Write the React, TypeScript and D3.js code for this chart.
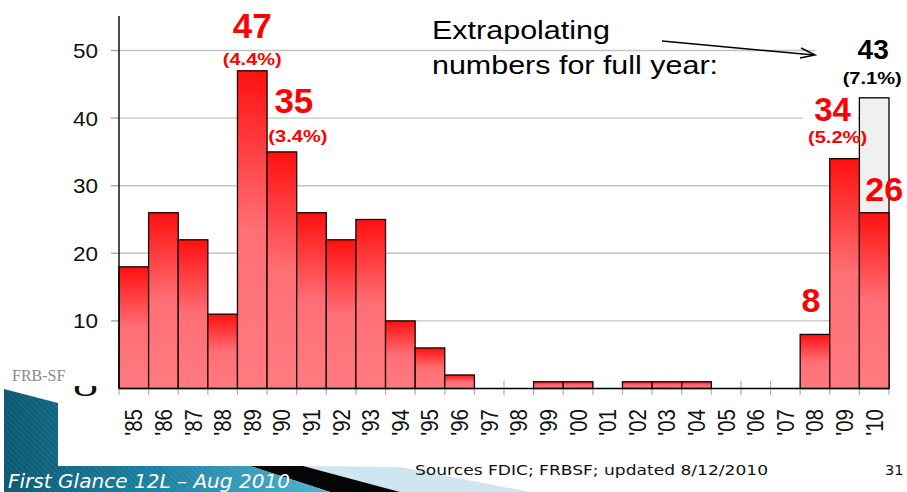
import React from "react";
import * as d3 from "d3";

// Bank failures per year, 1985–2010
const years = [
  "'85", "'86", "'87", "'88", "'89", "'90", "'91", "'92", "'93", "'94", "'95", "'96", "'97",
  "'98", "'99", "'00", "'01", "'02", "'03", "'04", "'05", "'06", "'07", "'08", "'09", "'10",
];
const failures = [18, 26, 22, 11, 47, 35, 26, 22, 25, 10, 6, 2, 0, 0, 1, 1, 0, 1, 1, 1, 0, 0, 0, 8, 34, 26];
// Full-year projection for the latest year
const projectedYear = "'10";
const projectedValue = 43;
const yTicks = [0, 10, 20, 30, 40, 50];

// Callouts: value, share of assets (optional), anchor, colour and optional backing box [left, right]
const callouts = [
  { year: "'89", value: "47", pct: "(4.4%)", dx: 0, pctDx: 0, vy: 38, py: 65, color: "#ff0000", big: 35, box: null },
  { year: "'90", value: "35", pct: "(3.4%)", dx: 12, pctDx: 4, vy: 113, py: 142, color: "#ff0000", big: 35, box: null },
  { year: "'09", value: "34", pct: "(5.2%)", dx: -12, pctDx: 5, vy: 121, py: 143, color: "#ff0000", big: 33, box: [-30, 25] },
  { year: "'10", value: "43", pct: "(7.1%)", dx: -1, pctDx: -1, vy: 59, py: 84, color: "#000000", big: 28, box: [-58, 32] },
  { year: "'10", value: "26", pct: "", dx: 10, pctDx: 0, vy: 201, py: 0, color: "#ff0000", big: 34, box: null },
  { year: "'08", value: "8", pct: "", dx: -4, pctDx: 0, vy: 312, py: 0, color: "#ff0000", big: 34, box: null },
];

const W = 907;
const H = 492;
const SANS = "'Liberation Sans', Arial, sans-serif";
const VERDANA = "'DejaVu Sans', Verdana, sans-serif";

export default function App() {
  const x = d3.scaleBand<string>().domain(years).range([119, 889]).padding(0);
  const y = d3.scaleLinear().domain([0, 50]).range([388.5, 50.5]);
  const bw = x.bandwidth();
  const base = y(0);

  return (
    <svg
      width={W}
      height={H}
      viewBox={`0 0 ${W} ${H}`}
      style={{ position: "absolute", left: 0, top: 0, background: "#fff" }}
    >
      <defs>
        <linearGradient id="barFill" x1="0" y1="0" x2="0" y2="1">
          <stop offset="0" stopColor="#ff1010" />
          <stop offset="0.5" stopColor="#ff6f75" />
          <stop offset="1" stopColor="#ff7a7f" />
        </linearGradient>
        <linearGradient id="teal" gradientUnits="userSpaceOnUse" x1="0" y1="0" x2="330" y2="0">
          <stop offset="0" stopColor="#0a5770" />
          <stop offset="0.45" stopColor="#1a7f9f" />
          <stop offset="1" stopColor="#4eb2d0" />
        </linearGradient>
        <pattern id="stripes" width="4" height="4" patternUnits="userSpaceOnUse" patternTransform="rotate(-45)">
          <line x1="0" y1="0" x2="0" y2="4" stroke="#ffffff" strokeOpacity="0.1" strokeWidth="1.5" />
        </pattern>
      </defs>

      {/* horizontal gridlines */}
      {yTicks.filter((t) => t > 0).map((t) => (
        <g key={`g${t}`}>
          <line x1={119} x2={889} y1={y(t)} y2={y(t)} stroke="#c4c4c4" strokeWidth={1.4} />
          <line x1={111} x2={119} y1={y(t)} y2={y(t)} stroke="#a8a8a8" strokeWidth={1.4} />
        </g>
      ))}

      {/* y tick labels */}
      {yTicks.map((t) => (
        <text key={`yl${t}`} x={98} y={y(t)} dy="0.36em" textAnchor="end" fontFamily={SANS} fontSize={21}
          fill="#111" textLength={25} lengthAdjust="spacingAndGlyphs">
          {t}
        </text>
      ))}

      {/* x tick marks at category boundaries */}
      {[...years.map((d) => x(d) as number), 889].map((px, i) => (
        <line key={`xt${i}`} x1={px} x2={px} y1={381} y2={395} stroke="#b0b0b0" strokeWidth={1.2} />
      ))}

      {/* white backing boxes behind the right-hand callouts */}
      {callouts.map((c, i) => {
        if (!c.box) return null;
        const cx = (x(c.year) as number) + bw / 2 + c.dx;
        return (
          <rect key={`bx${i}`} x={cx + c.box[0]} y={c.vy - c.big * 0.75}
            width={c.box[1] - c.box[0]} height={c.py - c.vy + c.big * 0.75 + 4} fill="#fff" />
        );
      })}

      {/* projected full-year bar */}
      <rect
        x={x(projectedYear)}
        y={y(projectedValue)}
        width={bw}
        height={base - y(projectedValue)}
        fill="#f0f0f0"
        stroke="#000"
        strokeWidth={1.3}
      />

      {/* yearly bars */}
      {years.map((d, i) =>
        failures[i] > 0 ? (
          <rect
            key={`b${d}`}
            x={x(d)}
            y={y(failures[i])}
            width={bw}
            height={base - y(failures[i])}
            fill="url(#barFill)"
            stroke="#1a0000"
            strokeWidth={1.3}
          />
        ) : null
      )}

      {/* axes */}
      <line x1={119} x2={119} y1={16} y2={base} stroke="#000" strokeWidth={1.4} />
      <line x1={119} x2={889} y1={base} y2={base} stroke="#000" strokeWidth={1.6} />

      {/* x labels */}
      {years.map((d) => (
        <text
          key={`xl${d}`}
          transform={`translate(${(x(d) as number) + bw / 2},409) scale(1.15,1) rotate(-90)`}
          textAnchor="end"
          dy="0.36em"
          fontFamily={SANS}
          fontSize={20.5}
          fill="#111"
        >
          {d}
        </text>
      ))}

      {/* annotation */}
      <text x={432} y={39} fontFamily={SANS} fontSize={25} fill="#000" textLength={178} lengthAdjust="spacingAndGlyphs">Extrapolating</text>
      <text x={432} y={74} fontFamily={SANS} fontSize={25} fill="#000" textLength={286} lengthAdjust="spacingAndGlyphs">numbers for full year:</text>
      <line x1={662} y1={41} x2={814} y2={55} stroke="#000" strokeWidth={1.5} />
      <polyline points="801,48 815,55 800,58" fill="none" stroke="#000" strokeWidth={1.5} />

      {/* value callouts */}
      {callouts.map((c, i) => {
        const cx = (x(c.year) as number) + bw / 2 + c.dx;
        return (
          <g key={`c${i}`} fontFamily={SANS} fontWeight="bold" fill={c.color} textAnchor="middle">
            <text x={cx} y={c.vy} fontSize={c.big}>{c.value}</text>
            {c.pct ? (
              <text x={cx + c.pctDx} y={c.py} fontSize={17} textLength={59} lengthAdjust="spacingAndGlyphs">{c.pct}</text>
            ) : null}
          </g>
        );
      })}

      {/* footer branding */}
      <rect x={0} y={364} width={108} height={22} fill="#fff" />
      <text x={12} y={381} fontFamily="'Liberation Serif', 'DejaVu Serif', serif" fontSize={16} fill="#8a8a8a">FRB-SF</text>
      <polygon points="530,492 400,467 303,466 400,492" fill="#cfe5ef" />
      <polygon points="250,466 303,466 400,492 330,492" fill="#050505" />
      <polygon points="4,389 58,403 58,466 250,466 330,492 4,492" fill="url(#teal)" />
      <polygon points="4,389 58,403 58,466 250,466 330,492 4,492" fill="url(#stripes)" />
      <text
        x={8}
        y={488}
        fontFamily={VERDANA}
        fontStyle="italic"
        fontSize={19}
        fill="#fff"
        textLength={282}
        lengthAdjust="spacingAndGlyphs"
      >
        First Glance 12L – Aug 2010
      </text>
      <text x={415} y={475} fontFamily={VERDANA} fontSize={14.5} fill="#111" textLength={353} lengthAdjust="spacingAndGlyphs">
        Sources FDIC; FRBSF; updated 8/12/2010
      </text>
      <text x={885} y={475} fontFamily={VERDANA} fontSize={14.5} fill="#111">31</text>
    </svg>
  );
}
